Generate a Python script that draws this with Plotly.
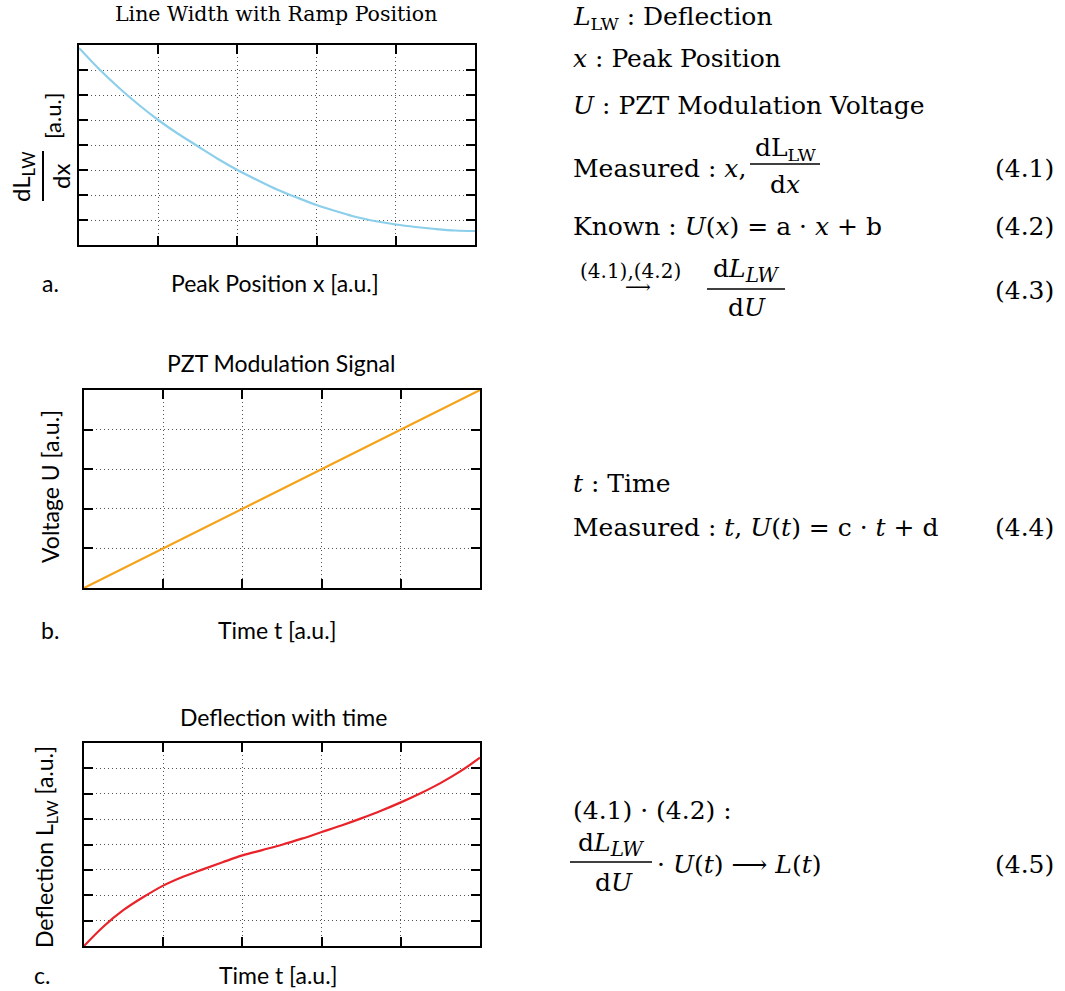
import plotly.graph_objects as go

W, H = 1065, 991

# ---- data ----
x_a = [0, 0.25, 0.5, 0.75, 1, 1.25, 1.5, 1.75, 2, 2.25, 2.5, 2.75, 3, 3.25, 3.5, 3.75, 4, 4.25, 4.5, 4.75, 5]
y_a = [7.88, 7.05, 6.3, 5.62, 5.0, 4.45, 3.95, 3.45, 3.0, 2.6, 2.22, 1.9, 1.6, 1.35, 1.12, 0.95, 0.82, 0.72, 0.64, 0.58, 0.56]

t_b = [0, 5]
u_b = [0, 5]

t_c = [0, 0.25, 0.5, 0.75, 1, 1.25, 1.5, 1.75, 2, 2.25, 2.5, 2.75, 3, 3.25, 3.5, 3.75, 4, 4.25, 4.5, 4.75, 5]
l_c = [0, 0.78, 1.42, 1.93, 2.38, 2.73, 3.02, 3.30, 3.57, 3.78, 3.99, 4.23, 4.49, 4.75, 5.03, 5.33, 5.66, 6.02, 6.42, 6.88, 7.42]

def px(x):
    return x / W

def py(y):
    return 1 - y / H

fig = go.Figure()
fig.add_trace(go.Scatter(x=x_a, y=y_a, mode="lines", line=dict(color="#8ccfeb", width=2.2, shape="spline"),
                         xaxis="x", yaxis="y", showlegend=False))
fig.add_trace(go.Scatter(x=t_b, y=u_b, mode="lines", line=dict(color="#f5a31a", width=2.2),
                         xaxis="x2", yaxis="y2", showlegend=False))
fig.add_trace(go.Scatter(x=t_c, y=l_c, mode="lines", line=dict(color="#e8232a", width=2.2, shape="spline"),
                         xaxis="x3", yaxis="y3", showlegend=False))

def ax(domain, rng, anchor):
    return dict(domain=domain, range=rng, anchor=anchor, showticklabels=False,
                showline=True, linecolor="black", linewidth=2, mirror="ticks",
                ticks="inside", ticklen=9, tickwidth=1.6, tickcolor="black", dtick=1, tick0=0,
                showgrid=True, gridcolor="#555", gridwidth=1, griddash="1px,3px", zeroline=False,
                fixedrange=True)

fa = (79, 475, 45, 245)
fb = (84, 480, 390, 588)
fc = (84, 480, 743, 946)
fig.update_layout(
    xaxis=ax([px(fa[0]), px(fa[1])], [0, 5], "y"),
    yaxis=ax([py(fa[3]), py(fa[2])], [0, 8], "x"),
    xaxis2=ax([px(fb[0]), px(fb[1])], [0, 5], "y2"),
    yaxis2=ax([py(fb[3]), py(fb[2])], [0, 5], "x2"),
    xaxis3=ax([px(fc[0]), px(fc[1])], [0, 5], "y3"),
    yaxis3=ax([py(fc[3]), py(fc[2])], [0, 8], "x3"),
)

ann = []
shapes = []

SANS = "Lato"
SERIF = "DejaVu Serif"

def text(x, y, s, size, font, xanchor="left", angle=0, yanchor="middle"):
    ann.append(dict(x=px(x), y=py(y), xref="paper", yref="paper", text=s, showarrow=False,
                    xanchor=xanchor, yanchor=yanchor, textangle=angle,
                    font=dict(family=font, size=size, color="black")))

def hline(x0, x1, y, w=1.5):
    shapes.append(dict(type="line", xref="paper", yref="paper", x0=px(x0), x1=px(x1), y0=py(y), y1=py(y),
                       line=dict(color="black", width=w)))

def vline(x, y0, y1, w=2):
    shapes.append(dict(type="line", xref="paper", yref="paper", x0=px(x), x1=px(x), y0=py(y0), y1=py(y1),
                       line=dict(color="black", width=w)))

SL = 23
# panel a
text(276, 14, "Line Width with Ramp Position", 20.5, SERIF, "center")
text(275, 283, "Peak Position x [a.u.]", SL, SANS, "center")
text(50, 283, "a.", SL, SANS, "center")
text(23, 177, "dL<sub>LW</sub>", 24, SANS, "center", -90)
vline(43, 151, 201)
text(61, 177, "dx", 24, SANS, "center", -90)
text(52, 116, "[a.u.]", 22, SANS, "center", -90)

# panel b
text(281, 363, "PZT Modulation Signal", SL, SANS, "center")
text(277, 630, "Time t [a.u.]", SL, SANS, "center")
text(50, 630, "b.", SL, SANS, "center")
text(50, 487, "Voltage U [a.u.]", SL, SANS, "center", -90)

# panel c
text(283, 717, "Deflection with time", SL, SANS, "center")
text(278, 975, "Time t [a.u.]", SL, SANS, "center")
text(42, 975, "c.", SL, SANS, "center")
text(45, 847, "Deflection L<sub>LW</sub> [a.u.]", SL, SANS, "center", -90)

# equations
ES = 25
SUBI = "<sub><i><span style='font-size:20px'>LW</span></i></sub>"
text(571, 0, "<i>L</i><sub>LW</sub> : Deflection", ES, SERIF, yanchor="top")
text(571, 59, "<i>x</i> : Peak Position", ES, SERIF)
text(571, 105, "<i>U</i> : PZT Modulation Voltage", ES, SERIF)

text(571, 168, "Measured : <i>x</i>,", ES, SERIF)
text(785, 149, "dL<sub>LW</sub>", ES, SERIF, "center")
hline(750, 820, 164)
text(785, 185, "d<i>x</i>", ES, SERIF, "center")
text(1056, 168, "(4.1)", ES, SERIF, "right")

text(571, 226, "Known : <i>U</i>(<i>x</i>) = a · <i>x</i> + b", ES, SERIF)
text(1056, 226, "(4.2)", ES, SERIF, "right")

text(578, 271, "(4.1),(4.2)", 20, SERIF)
text(638, 287, "⟶", 18, SERIF, "center")
text(746, 271, "d<i>L</i>" + SUBI, ES, SERIF, "center")
hline(707, 785, 289)
text(747, 308, "d<i>U</i>", ES, SERIF, "center")
text(1056, 290, "(4.3)", ES, SERIF, "right")

text(571, 483, "<i>t</i> : Time", ES, SERIF)
text(571, 527, "Measured : <i>t</i>, <i>U</i>(<i>t</i>) = c · <i>t</i> + d", ES, SERIF)
text(1056, 527, "(4.4)", ES, SERIF, "right")

text(571, 810, "(4.1) · (4.2) :", ES, SERIF)
text(611, 844, "d<i>L</i>" + SUBI, ES, SERIF, "center")
hline(570, 652, 862)
text(614, 882, "d<i>U</i>", ES, SERIF, "center")
text(655, 864, "· <i>U</i>(<i>t</i>) ⟶ <i>L</i>(<i>t</i>)", ES, SERIF)
text(1056, 864, "(4.5)", ES, SERIF, "right")

fig.update_layout(width=W, height=H, margin=dict(l=0, r=0, t=0, b=0),
                  paper_bgcolor="white", plot_bgcolor="white",
                  annotations=ann, shapes=shapes, showlegend=False)

fig.write_html("out.html")
